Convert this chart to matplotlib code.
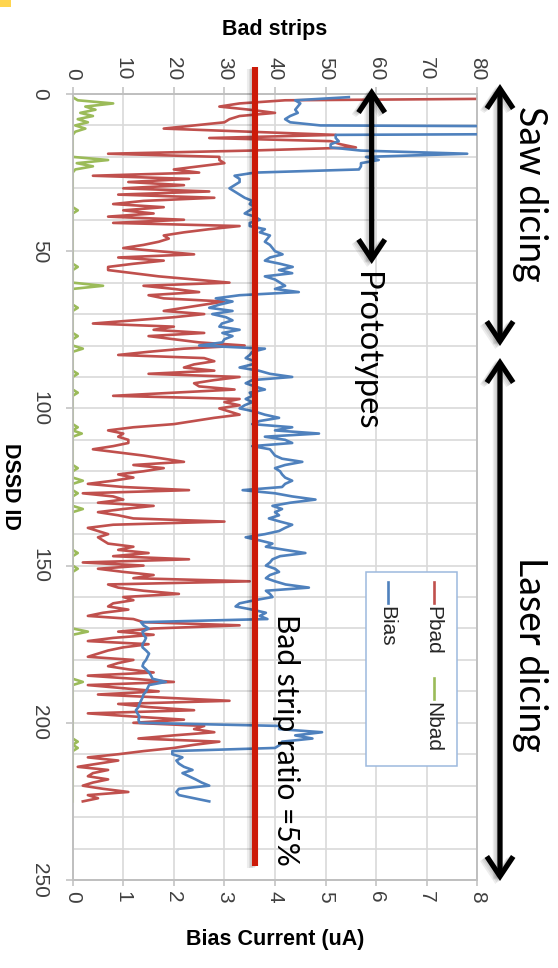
import matplotlib
matplotlib.use("Agg")
import matplotlib.pyplot as plt
import matplotlib.patheffects as pe
from matplotlib.patches import FancyArrowPatch, Rectangle
from matplotlib.lines import Line2D
import numpy as np

# ---------------- data ----------------
dssd_id = np.arange(1, 226)

pbad = [
    128, 42, 33, 29, 35, 40, 33, 31, 30, 24,
    18, 35, 52, 27, 51, 53, 56, 35, 7, 29,
    29, 30, 25, 20, 25, 4, 23, 11, 22, 10,
    27, 9, 28, 14, 8, 18, 10, 16, 7, 22,
    8, 33, 27, 22, 18, 19, 17, 14, 10, 17,
    24, 9, 18, 12, 7, 7, 12, 17, 24, 31,
    14, 20, 25, 15, 18, 30, 26, 22, 18, 26,
    20, 12, 4, 20, 16, 26, 15, 20, 25, 34,
    22, 15, 9, 26, 28, 24, 22, 28, 15, 33,
    28, 24, 25, 32, 20, 8, 33, 30, 33, 29,
    31, 33, 28, 24, 20, 12, 7, 10, 9, 11,
    11, 8, 4, 9, 14, 18, 22, 12, 18, 14,
    9, 12, 8, 3, 10, 23, 2, 8, 10, 5,
    16, 10, 5, 9, 12, 30, 8, 3, 5, 7,
    5, 6, 7, 12, 9, 15, 8, 23, 2, 14,
    5, 10, 16, 12, 35, 7, 9, 14, 21, 10,
    12, 8, 7, 11, 6, 3, 12, 14, 33, 16,
    9, 16, 8, 3, 15, 10, 7, 5, 3, 12,
    9, 7, 11, 16, 3, 12, 20, 3, 10, 17,
    5, 18, 31, 9, 15, 24, 3, 12, 22, 12,
    26, 24, 28, 20, 13, 29, 24, 20, 14, 9,
    3, 9, 5, 1, 7, 4, 3, 7, 4, 2,
    6, 11, 3, 5, 2,
]

nbad = [
    0, 1, 8, 2.5, 4.5, 1.5, 4, 1, 3, 0.5,
    2.5, 0.5, 0, 0, 0, 0, 0, 0, 0, 0,
    7, 0.8, 4, 0.5, 0, 0, 0, 0, 0, 0,
    0, 0, 0, 0, 0, 0, 1, 0, 0, 0,
    0, 0, 0, 0, 0, 0, 0, 0, 0, 0,
    0, 0, 0, 0, 1, 0, 0, 0, 0, 0,
    6, 0, 0, 0, 0, 0, 0, 1, 0, 0,
    0, 0, 0, 0, 0, 0, 1, 0, 0, 0,
    2, 0, 0, 0, 0, 0, 0, 0, 1, 0,
    0, 0, 0, 0, 1, 0, 0, 0, 0, 0,
    0, 0, 0, 0, 0, 1, 0, 1.8, 0, 0,
    0, 0, 0, 0, 0, 0, 0, 0, 1, 0,
    0, 0, 2, 0, 0, 0, 1, 0, 0, 0,
    0, 2, 0, 0, 0, 0, 0, 0, 0, 0,
    0, 0, 0, 0, 0, 1, 0, 0, 0, 0,
    1, 0, 0, 0, 0, 0, 0, 0, 0, 0,
    0, 0, 0, 0, 0, 0, 0, 0, 0, 0,
    3, 0, 0, 0, 0, 0, 0, 0, 0, 0,
    0, 0, 0, 0, 0, 0, 2, 0, 0, 0,
    0, 0, 0, 0, 0, 0, 0, 0, 0, 0,
    0, 0, 0, 0, 0, 1, 0, 1, 0, 0,
    0, 0, 0, 0, 0, 0, 0, 0, 0, 0,
    0, 0, 0, 0, 0,
]

bias = [
    5.46, 4.4, 4.5, 4.45, 4.4, 4.45, 4.3, 4.2, 4.3, 4.9,
    20, 20, 5.2, 5.2, 5.26, 5.1, 5.1, 5.7, 7.8, 5.8,
    6.05, 5.7, 5.7, 5.66, 3.6, 3.2, 3.3, 3.3, 3.2, 3.1,
    3.2, 3.3, 3.4, 3.55, 3.5, 3.6, 3.5, 3.4, 3.6, 3.7,
    3.5, 3.5, 3.8, 3.7, 3.9, 3.85, 3.8, 3.9, 3.95, 4.0,
    4.15, 3.9, 3.8, 4.1, 4.35, 4.08, 4.34, 3.8, 4.0, 4.1,
    4.2, 4.0, 4.47, 3.3, 2.83, 3.16, 2.9, 2.7, 3.16, 2.76,
    3.03, 3.16, 2.95, 2.9, 3.3, 2.96, 3.16, 3.0, 2.96, 2.5,
    3.8, 3.55, 3.5, 3.42, 3.6, 3.55, 3.3, 3.68, 3.9, 4.34,
    3.55, 3.42, 3.6, 3.8, 3.5, 3.55, 3.42, 3.55, 3.4, 3.3,
    3.6, 3.8, 4.08, 3.7, 3.55, 4.34, 4.0, 4.87, 3.8, 4.2,
    4.34, 3.55, 3.9, 3.95, 4.0, 4.14, 4.54, 4.2, 4.0, 4.1,
    4.14, 4.2, 4.34, 4.2, 4.14, 3.36, 4.0, 4.34, 4.8, 4.3,
    3.95, 4.14, 4.0, 4.08, 3.88, 4.1, 4.34, 4.2, 4.08, 3.8,
    3.42, 3.7, 3.95, 3.82, 4.2, 4.6, 4.1, 3.95, 3.9, 3.82,
    4.0, 4.08, 3.9, 3.82, 4.0, 4.21, 4.67, 3.82, 3.9, 3.95,
    3.6, 3.3, 3.22, 3.55, 3.82, 3.7, 3.85, 1.35, 1.4, 1.5,
    1.38, 1.4, 1.45, 1.42, 1.38, 1.38, 1.45, 1.51, 1.48, 1.45,
    1.4, 1.38, 1.45, 1.51, 1.55, 1.58, 1.84, 1.51, 1.48, 1.45,
    1.4, 1.38, 1.35, 1.32, 1.3, 1.25, 1.28, 1.32, 1.3, 1.32,
    4.1, 4.08, 4.93, 4.4, 4.74, 4.14, 4.1, 4.0, 1.97, 1.97,
    2.17, 2.05, 2.1, 2.2, 2.37, 2.17, 2.3, 2.43, 2.55, 2.7,
    2.1, 2.05, 2.1, 2.4, 2.7,
]

strip_ticks = list(range(0, 81, 10))
bias_ticks = list(range(0, 9))
id_ticks = list(range(0, 251, 50))
ratio_line_strips = 36          # 5 % bad strip threshold
series_names = ["Pbad", "Nbad", "Bias"]

# ---------------- style ----------------
RED = "#C0504D"
GREEN = "#9BBB59"
BLUE = "#4F81BD"
GRID = "#d9d9d9"
SPINE = "#bfbfbf"
TICKC = "#404040"
TICK_FONT = "Liberation Sans"
NOTE_FONT = "Lato"

W, H = 558, 968
fig = plt.figure(figsize=(W / 100, H / 100), dpi=100)


def fx(px):
    return px / W


def fy(py):
    return 1 - py / H


left, right, top, bottom = 72.7, 477.3, 94.0, 880.0
ax = fig.add_axes([fx(left), fy(bottom), (right - left) / W, (bottom - top) / H])

ax.plot(pbad, dssd_id, color=RED, lw=1.9, zorder=3)
ax.plot(nbad, dssd_id, color=GREEN, lw=1.9, zorder=3)

ax2 = ax.twiny()
ax2.plot(bias, dssd_id, color=BLUE, lw=1.9, zorder=3)

ax.set_xlim(0, 80)
ax2.set_xlim(0, 8)
ax.set_ylim(250, 0)

# grid + frame
ax.set_axisbelow(True)
ax.set_xticks(strip_ticks)
ax.set_yticks(id_ticks)
ax.set_yticks(list(range(0, 251, 10)), minor=True)
ax.grid(axis="x", which="major", color=GRID, lw=1.2)
ax.grid(axis="y", which="both", color=GRID, lw=1.2)
for a in (ax, ax2):
    for s in a.spines.values():
        s.set_color(SPINE)
        s.set_linewidth(1.2)

ax.xaxis.tick_top()
ax.tick_params(axis="x", which="major", direction="out", length=5, width=1.1,
               color=SPINE, labelsize=15, labelcolor=TICKC, pad=5,
               labelrotation=-90)
ax.tick_params(axis="y", which="major", direction="out", length=5, width=1.1,
               color=SPINE, labelsize=15, labelcolor=TICKC, pad=12,
               labelrotation=-90)
ax.tick_params(axis="y", which="minor", length=0)

ax2.xaxis.tick_bottom()
ax2.set_xticks(bias_ticks)
ax2.tick_params(axis="x", direction="out", length=4.5, width=1.1, color=SPINE,
                labelsize=15, labelcolor=TICKC, pad=3.5, labelrotation=-90)

for lbl in ax.get_xticklabels() + ax.get_yticklabels() + ax2.get_xticklabels():
    lbl.set_fontfamily(TICK_FONT)
for lbl in ax.get_yticklabels():
    lbl.set_va("center")

# axis titles
fig.text(fx(275), fy(29), "Bad strips", ha="center", va="center",
         fontsize=15.5, fontweight="bold", family=TICK_FONT)
fig.text(fx(275.5), fy(940), "Bias Current (uA)", ha="center", va="center",
         fontsize=15.5, fontweight="bold", family=TICK_FONT)
fig.text(fx(10), fy(486), "DSSD ID", ha="center", va="center", rotation=-90,
         fontsize=15.5, fontweight="bold", family=TICK_FONT)

# soft shadow drawn as a few faint offset strokes
def soft_shadow(dx, dy, alpha):
    return [pe.SimpleLineShadow(offset=(dx * k, dy * k), shadow_color="k",
                                alpha=alpha) for k in (0.5, 1.0, 1.5)]


# threshold line
thr = Line2D([ratio_line_strips, ratio_line_strips], [-8.6, 245.5],
             transform=ax.transData, color="#CC1A08", lw=4.4, zorder=10,
             solid_capstyle="butt",
             path_effects=soft_shadow(-2.2, -1.2, 0.07) + [pe.Normal()])
fig.add_artist(thr)

# double arrows
def double_arrow(xp, y0, y1):
    arr = FancyArrowPatch((fx(xp), fy(y0)), (fx(xp), fy(y1)),
                          transform=fig.transFigure,
                          arrowstyle="<->,head_length=0.75,head_width=0.5",
                          mutation_scale=19, lw=3.8, color="black",
                          shrinkA=0, shrinkB=0, zorder=11,
                          capstyle="butt", joinstyle="miter",
                          path_effects=soft_shadow(-2.2, -1.5, 0.07) + [pe.Normal()])
    fig.add_artist(arr)


double_arrow(500, 84, 346)
double_arrow(500, 358, 881)
double_arrow(371.7, 88, 264)

# notes
fig.text(fx(530), fy(193.5), "Saw dicing", rotation=-90, ha="center", va="center",
         fontsize=27, family=NOTE_FONT, zorder=12)
fig.text(fx(530), fy(654), "Laser dicing", rotation=-90, ha="center", va="center",
         fontsize=27, family=NOTE_FONT, zorder=12)
fig.text(fx(366), fy(351), "Prototypes", rotation=-90, ha="center", va="center",
         fontsize=23.5, family=NOTE_FONT, zorder=12)
fig.text(fx(286), fy(739.5), "Bad strip ratio =5%", rotation=-90, ha="center",
         va="center", fontsize=21.5, family=NOTE_FONT, zorder=12)

# legend box
fig.add_artist(Rectangle((fx(366), fy(766)), (457 - 366) / W, (766 - 572) / H,
                         transform=fig.transFigure, facecolor="white",
                         edgecolor="#9DB9DE", lw=1.1, zorder=8))
legend_items = [(RED, 434, 582), (GREEN, 434, 678), (BLUE, 388, 582)]
for name, (col, lx, ly) in zip(series_names, legend_items):
    fig.add_artist(Line2D([fx(lx), fx(lx)], [fy(ly), fy(ly + 21)],
                          transform=fig.transFigure, color=col, lw=1.9, zorder=9))
    fig.text(fx(lx - 1), fy(ly + 24), name, rotation=-90, ha="center", va="top",
             fontsize=15, family=TICK_FONT, color="#262626", zorder=9)

# small highlight in the corner
fig.add_artist(Rectangle((0, fy(7)), 11 / W, 7 / H, transform=fig.transFigure,
                         facecolor="#FFD54F", edgecolor="none", zorder=12))

fig.savefig("out.png", dpi=100)
